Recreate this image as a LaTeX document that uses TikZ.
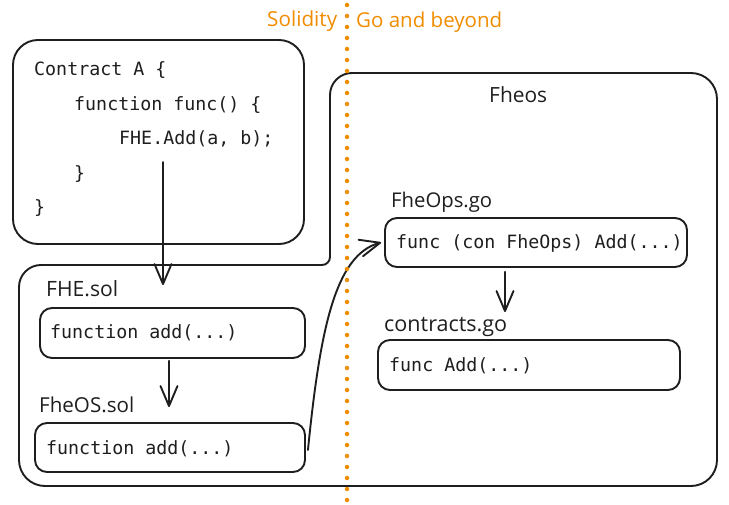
\documentclass[tikz,border=0pt]{standalone}
\usepackage{fontspec}
\usepackage{graphicx}
\usetikzlibrary{arrows.meta,calc}
\newfontfamily\handfont{Open Sans}
\newfontfamily\codefont{DejaVu Sans Mono}
\definecolor{ink}{HTML}{1E1E1E}
\definecolor{accent}{HTML}{F08C00}
\newcommand{\hw}[2]{\resizebox{#1pt}{!}{\handfont #2}}
\begin{document}
\begin{tikzpicture}[x=1pt,y=-1pt,
  boxst/.style={draw=ink, line width=1.9pt, rounded corners=12pt, inner sep=0pt},
  code/.style={font=\codefont\fontsize{18.3}{20}\selectfont, text=ink, anchor=base west, inner sep=0pt},
  lbl/.style={anchor=base west, inner sep=0pt, text=ink},
  arr/.style={draw=ink, line width=1.9pt, line cap=round, -{Straight Barb[length=20pt,width=17pt,round]}}
]
\useasboundingbox (0,0) rectangle (729,505);

% outer L-shaped outline
\draw[ink, line width=1.9pt] (330,150) [rounded corners=22pt] -- (330,73) [rounded corners=26pt] -- (717,73) -- (717,486) -- (19,486) [rounded corners=22pt] -- (19,265) [rounded corners=8pt] -- (330,265) -- cycle;

% Contract A
\node[boxst, rounded corners=25pt, minimum width=291pt, minimum height=204pt] (contract) at (158.5,142) {};
\node[code] (c1) at (34,76) {Contract A \{};
\node[code] (c2) at (74,110.5) {function func() \{};
\node[code] (c3) at (119,145) {FHE.Add(a, b);};
\node[code] (c4) at (74,179.5) {\}};
\node[code] (c5) at (34,214) {\}};

% Solidity side
\node[lbl] (fhesol) at (46,297) {\hw{72}{FHE.sol}};
\node[boxst, minimum width=265pt, minimum height=50pt] (fhebox) at (172.5,333) {};
\node[code] (t1) at (50,339) {function add(...)};
\node[lbl] (fheossol) at (39,413) {\hw{95}{FheOS.sol}};
\node[boxst, minimum width=270pt, minimum height=49pt] (fheosbox) at (170,447.5) {};
\node[code] (t2) at (46,454) {function add(...)};

% Go side
\node[lbl] (fheos) at (489,103) {\hw{58}{Fheos}};
\node[lbl] (fheopsgo) at (391,208) {\hw{101}{FheOps.go}};
\node[boxst, minimum width=302pt, minimum height=49pt] (fheopsbox) at (536,242.5) {};
\node[code] (t3) at (396,249) {func (con FheOps) Add(...)};
\node[lbl] (contractsgo) at (384,332) {\hw{123}{contracts.go}};
\node[boxst, minimum width=302pt, minimum height=50pt] (contractsbox) at (529,365) {};
\node[code] (t4) at (389,371) {func Add(...)};

% arrows
\coordinate (a1s) at (163,162);
\coordinate (a1e) at (163,285);
\draw[arr] (a1s) -- (a1e);
\coordinate (a2e) at (169,407);
\draw[arr] ([xshift=-3.5pt,yshift=-2pt]fhebox.south) -- (a2e);
\draw[arr] ([xshift=2pt,yshift=-2.5pt]fheosbox.east) .. controls (320,330) and (335,255) .. ([xshift=-3pt]fheopsbox.west);
\coordinate (a4e) at (505,312);
\draw[arr] ([xshift=-31pt,yshift=-4pt]fheopsbox.south) -- (a4e);

% divider and headings
\draw[accent, line width=4.5pt, line cap=round, dash pattern=on 0pt off 11pt] (347,5) -- (347,503);
\node[lbl, text=accent] (solidity) at (267,27) {\hw{70}{Solidity}};
\node[lbl, text=accent] (goside) at (356,28) {\hw{146}{Go and beyond}};
\end{tikzpicture}
\end{document}
